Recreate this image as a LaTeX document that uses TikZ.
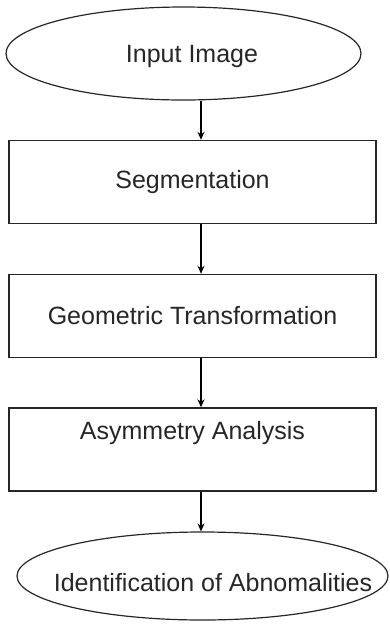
\documentclass[tikz,border=0pt]{standalone}
\usepackage{fontspec}
\setmainfont{Liberation Sans}
\usetikzlibrary{shapes.geometric,arrows.meta}

\begin{document}
\begin{tikzpicture}[x=1pt,y=-1pt,
        every node/.style={font=\fontsize{25}{30}\selectfont,text=black!85},
        stage/.style={draw=black!85,line width=1.4pt,minimum width=367pt,minimum height=83pt,inner sep=0pt},
        terminal/.style={draw=black!85,line width=1.2pt,ellipse,inner sep=0pt},
        >={Stealth[length=8pt,width=7pt]}]
                \useasboundingbox (0,0) rectangle (390,625);
                \coordinate (spine) at (201,0);
                \node (input) [terminal,minimum width=355pt,minimum height=93pt,
                    label={[xshift=8.5pt,yshift=-3pt]center:Input Image}] at (183.5,53.5) {};
                \node (seg) [stage] at (192.5,182) {Segmentation};
                \node (geo) [stage] at (192.5,316) {Geometric Transformation};
                \node (asym) [stage,text height=18pt,text depth=39pt] at (192.5,449.5) {Asymmetry Analysis};
                \node (ident) [terminal,minimum width=371pt,minimum height=88pt,
                    label={[xshift=10.5pt,yshift=-7pt]center:Identification of Abnomalities}] at (202.5,576) {};

                \draw[->,line width=2.2pt] (input.south -| spine) to (seg.north -| spine);
                \draw[->,line width=2.2pt] (seg.south -| spine) to (geo.north -| spine);
                \draw[->,line width=2.2pt] (geo.south -| spine) to (asym.north -| spine);
                \draw[->,line width=2.2pt] (asym.south -| spine) to (ident.north -| spine);
            \end{tikzpicture}
\end{document}
